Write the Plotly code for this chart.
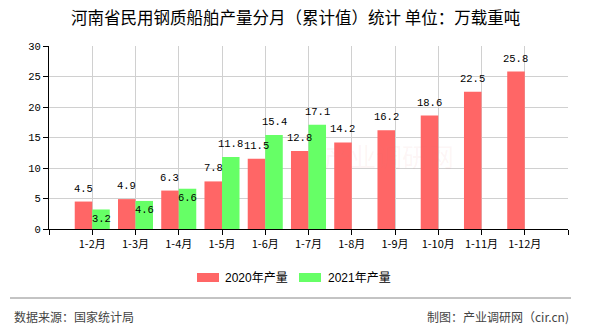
import plotly.graph_objects as go

# Monthly cumulative output (10k deadweight tons)
months = ["1-2月", "1-3月", "1-4月", "1-5月", "1-6月", "1-7月",
          "1-8月", "1-9月", "1-10月", "1-11月", "1-12月"]
output_2020 = [4.5, 4.9, 6.3, 7.8, 11.5, 12.8, 14.2, 16.2, 18.6, 22.5, 25.8]
output_2021 = [3.2, 4.6, 6.6, 11.8, 15.4, 17.1, None, None, None, None, None]
series_names = ["2020年产量", "2021年产量"]
y_ticks = [0, 5, 10, 15, 20, 25, 30]

RED = "#ff6666"
GREEN = "#66ff66"
W, H = 590, 330
L, R, T, B = 49, 22, 46, 101
PW, PH = W - L - R, H - T - B


def px_x(px):
    return (px - L) / PW


def px_y(py):
    return (H - B - py) / PH


idx = list(range(len(months)))

fig = go.Figure()
fig.add_trace(go.Bar(x=idx, y=output_2020, name=series_names[0],
                     marker=dict(color=RED, line=dict(width=0)),
                     showlegend=False))
fig.add_trace(go.Bar(x=idx, y=output_2021, name=series_names[1],
                     marker=dict(color=GREEN, line=dict(width=0)),
                     showlegend=False))

label_font = dict(family="Liberation Mono, DejaVu Sans Mono, monospace",
                  size=10.5, color="#000000")
annotations = []
half = 0.2025  # half of one bar's width in category units
for i, v in enumerate(output_2020):
    annotations.append(dict(x=i - half, y=v, xref="x", yref="y", text=f"{v}",
                            showarrow=False, yanchor="bottom", yshift=5,
                            font=label_font))
for i, v in enumerate(output_2021):
    if v is None:
        continue
    # put the label inside the bar when it would collide with the 2020 label
    inside = v - output_2020[i] < 2
    annotations.append(dict(x=i + half, y=v, xref="x", yref="y", text=f"{v}",
                            showarrow=False,
                            yanchor="top" if inside else "bottom",
                            yshift=-1.5 if inside else 5,
                            font=label_font))

# Title
annotations.append(dict(x=px_x(295), y=px_y(17), xref="paper", yref="paper",
                        text="河南省民用钢质船舶产量分月（累计值）统计 单位：万载重吨",
                        showarrow=False, xanchor="center", yanchor="middle",
                        font=dict(family="Noto Sans CJK SC", size=16.5,
                                  color="#000000")))

# Legend
legend_font = dict(family="Liberation Sans, Noto Sans CJK SC", size=12,
                   color="#000000")
shapes = []
for (x0, x1, tx), name, col in zip([(197, 219, 223), (299, 321, 326)],
                                   series_names, [RED, GREEN]):
    shapes.append(dict(type="rect", xref="paper", yref="paper",
                       x0=px_x(x0), x1=px_x(x1), y0=px_y(282), y1=px_y(273),
                       fillcolor=col, line=dict(width=0)))
    annotations.append(dict(x=px_x(tx), y=px_y(277.5), xref="paper",
                            yref="paper", text=name, showarrow=False,
                            xanchor="left", yanchor="middle", font=legend_font))

# Footer
shapes.append(dict(type="line", xref="paper", yref="paper",
                   x0=px_x(10), x1=px_x(571), y0=px_y(298), y1=px_y(298),
                   line=dict(color="#888888", width=1)))
footer_font = dict(family="Noto Sans CJK SC", size=12, color="#444444")
annotations.append(dict(x=px_x(12), y=px_y(316), xref="paper", yref="paper",
                        text="数据来源：国家统计局", showarrow=False,
                        xanchor="left", yanchor="middle", font=footer_font))
annotations.append(dict(x=px_x(571), y=px_y(316), xref="paper", yref="paper",
                        text="制图：产业调研网（cir.cn)", showarrow=False,
                        xanchor="right", yanchor="middle", font=footer_font))

# Faint watermark
annotations.append(dict(x=px_x(389), y=px_y(176), xref="paper", yref="paper",
                        text="产业调研网", showarrow=False,
                        font=dict(family="Noto Sans CJK SC", size=26,
                                  color="rgba(230,120,120,0.07)")))

fig.update_layout(
    width=W, height=H,
    margin=dict(l=L, r=R, t=T, b=B, pad=0),
    paper_bgcolor="white", plot_bgcolor="white",
    barmode="group", bargap=0.19, bargroupgap=0,
    annotations=annotations, shapes=shapes,
    xaxis=dict(range=[-1, 11], tickmode="array",
               tickvals=list(range(-1, 12)),
               ticktext=[""] + months + [""],
               showgrid=True, gridcolor="#d0d0d0", gridwidth=1,
               zeroline=False, showline=True, linecolor="#000000",
               linewidth=1, ticks="outside", ticklen=5, tickcolor="#000000",
               tickfont=dict(family="Noto Sans CJK SC", size=11,
                             color="#000000")),
    yaxis=dict(range=[0, 30], tickmode="array", tickvals=y_ticks,
               showgrid=True, gridcolor="#d0d0d0", gridwidth=1,
               zeroline=False, showline=True, linecolor="#000000",
               linewidth=1, ticks="outside", ticklen=5, tickcolor="#000000",
               tickfont=dict(family="Liberation Mono, DejaVu Sans Mono", size=10.5,
                             color="#000000")),
)

fig.write_html("out.html")
